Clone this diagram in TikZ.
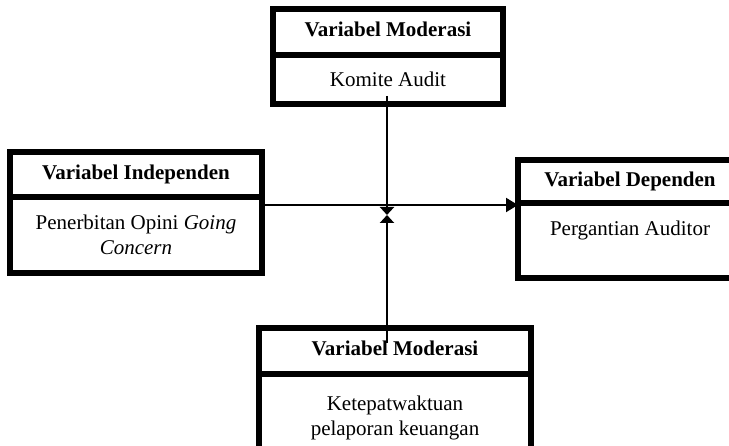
\documentclass[tikz,border=0pt]{standalone}
\usepackage{fontspec}
\setmainfont{Liberation Serif}
\usetikzlibrary{arrows.meta,positioning}

\begin{document}
\begin{tikzpicture}[x=1pt, y=-1pt,
    font=\fontsize{21}{25}\selectfont,
    kotak/.style={draw, line width=5.4pt, outer sep=0pt, inner sep=0pt, align=center},
    judul/.style={kotak, font=\fontsize{21}{25}\selectfont\bfseries,
                  text height=14pt, text depth=4pt},
    panah/.style={line width=2pt}]
  \useasboundingbox (0,0) rectangle (729,446);
  \clip (0,0) rectangle (729,446);

  % ---- Variabel moderasi (atas) ----
  \node[judul, minimum width=230, minimum height=46] (modAtas) at (388,32) {Variabel Moderasi};
  \node[kotak, minimum width=230, minimum height=49, below=0pt of modAtas] (modAtasIsi) {Komite Audit};

  % ---- Variabel independen (kiri) ----
  \node[judul, minimum width=252, minimum height=45] (indep) at (136,174.5) {Variabel Independen};
  \node[kotak, minimum width=252, minimum height=76, below=0pt of indep] (indepIsi)
    {Penerbitan Opini \textit{Going}\\\textit{Concern}};

  % ---- Variabel dependen (kanan) ----
  \node[judul, minimum width=224, minimum height=43] (dep) at (630,181.5) {Variabel Dependen};
  \node[kotak, minimum width=224, minimum height=75, below=0pt of dep] (depIsi)
    {Pergantian Auditor\\~};

  % ---- Variabel moderasi (bawah) ----
  \node[judul, minimum width=272, minimum height=46] (modBawah) at (395,351) {Variabel Moderasi};
  \node[kotak, minimum width=272, minimum height=88, below=0pt of modBawah] (modBawahIsi)
    {Ketepatwaktuan\\pelaporan keuangan};

  % ---- Titik bantu ----
  \coordinate (silang) at (387,205);
  \coordinate (temu) at (387,215);
  \coordinate (pangkalAtas) at (387,96);
  \coordinate (pangkalBawah) at (387,343);

  % ---- Panah independen -> dependen ----
  \draw[panah, -{Triangle[length=12pt, width=14pt]}] (indepIsi.east |- silang) -- (depIsi.west |- silang);

  % ---- Panah moderasi ----
  \draw[panah, -{Triangle[length=8pt, width=14pt]}] (pangkalAtas) -- (temu);
  \draw[panah, -{Triangle[length=8pt, width=14pt]}] (pangkalBawah) -- (temu);
\end{tikzpicture}
\end{document}
